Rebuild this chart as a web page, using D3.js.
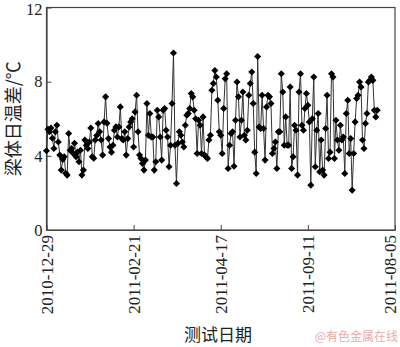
<!DOCTYPE html>
<html>
<head>
<meta charset="utf-8">
<script src="https://cdn.jsdelivr.net/npm/d3@7/dist/d3.min.js"></script>
<style>
  html, body { margin: 0; padding: 0; background: #fff; }
  svg { display: block; }
</style>
</head>
<body>
<svg id="chart" width="400" height="347"></svg>
<script>
// Daily temperature difference of the girder body (°C), one reading per test day
const dailyDiff = [
  4.27,5.43,5.3,5.5,4.95,4.4,5.3,5.65,4.75,4.04,3.23,3.8,3.95,3.06,2.96,5.2,4.3,4.4,4.14,4.68,
  3.95,4.2,3.68,4.3,2.96,3.23,4.85,4.57,4.4,4.75,5.5,3.95,3.87,4.85,5.1,5.74,5.3,4.85,
  4.04,5.83,7.18,5.76,4.93,4.48,4.2,4.57,5.38,5.56,5.02,5.56,6.64,4.93,4.85,5.3,4.04,4.93,5.56,5.83,
  6.0,4.48,6.37,7.27,5.3,4.04,3.86,3.59,3.23,3.77,6.82,5.11,6.28,5.02,5.02,3.23,3.68,6.46,
  6.1,5.02,3.77,6.46,6.55,5.38,5.02,3.41,4.57,6.82,9.55,4.57,2.51,4.67,5.3,5.11,4.75,4.48,5.65,6.19,
  6.28,6.55,7.36,7.18,6.46,6.0,4.13,5.92,5.65,4.13,6.1,4.04,3.95,3.86,4.85,5.11,7.54,7.9,8.6,8.25,
  7.0,5.3,5.11,4.13,6.55,8.16,8.43,3.32,4.57,5.2,5.3,3.44,5.92,7.98,7.18,5.02,5.92,7.44,5.11,4.85,
  5.38,7.27,7.9,8.52,6.82,4.2,3.05,9.36,5.56,5.47,7.27,5.47,3.77,6.64,7.27,
  7.18,6.82,4.13,4.4,4.75,3.32,5.3,5.3,8.43,7.44,4.57,6.1,4.57,4.57,7.71,3.32,3.95,5.65,5.38,2.96,
  7.44,8.43,5.65,5.38,6.55,7.36,6.73,5.83,2.42,6.0,8.25,3.41,5.38,6.28,3.14,4.85,3.23,2.96,5.47,7.27,
  3.86,4.2,8.43,8.25,3.86,5.92,4.85,4.3,5.65,4.85,5.02,3.05,6.28,7.0,4.13,4.93,2.15,4.13,5.83,7.09,
  7.27,7.98,7.71,4.85,4.4,5.74,6.28,7.98,8.07,8.25,8.07,6.46,6.1,6.46
];

// Tick positions along the reading index and their date labels
const dateTickIndex = [0, 59, 118, 177, 236];
const dateTickLabels = ["2010-12-29", "2011-02-21", "2011-04-17", "2011-09-11", "2011-08-05"];
const yTickValues = [0, 4, 8, 12];

const yTitle = "梁体日温差/℃";
const xTitle = "测试日期";
const sourceMark = "@有色金属在线";

const svg = d3.select("#chart");
const plot = { left: 46.5, right: 395, top: 7.5, bottom: 230 };

const x = d3.scaleLinear()
  .domain([dateTickIndex[0], dateTickIndex[dateTickIndex.length - 1]])
  .range([plot.left, plot.right]);
const y = d3.scaleLinear().domain([0, 12]).range([plot.bottom, plot.top]);

const serif = "'Liberation Serif', 'Times New Roman', serif";
const cjk = "'Noto Sans CJK SC', sans-serif";
const frameColor = "#444";

// Plot frame
svg.append("rect")
  .attr("x", plot.left).attr("y", plot.top)
  .attr("width", plot.right - plot.left).attr("height", plot.bottom - plot.top)
  .attr("fill", "none").attr("stroke", frameColor).attr("stroke-width", 1.2);

// Left axis, ticks pointing inward
const yAxis = svg.append("g")
  .attr("transform", `translate(${plot.left},0)`)
  .call(d3.axisLeft(y).tickValues(yTickValues).tickSizeInner(-5).tickSizeOuter(0).tickPadding(4));
yAxis.select(".domain").attr("stroke", frameColor).attr("stroke-width", 1.2);
yAxis.selectAll(".tick line").attr("stroke", frameColor);
yAxis.selectAll(".tick text")
  .attr("font-family", serif).attr("font-size", 16.5).attr("fill", "#222")
  .attr("dy", (d) => d === 12 ? "0.42em" : "0.32em");

// Bottom axis with vertical date labels; the last one is nudged inside the right edge
const xAxis = svg.append("g")
  .attr("transform", `translate(0,${plot.bottom})`)
  .call(d3.axisBottom(x).tickValues(dateTickIndex)
    .tickFormat((d, i) => dateTickLabels[i])
    .tickSizeInner(-5).tickSizeOuter(0));
xAxis.select(".domain").attr("stroke", frameColor).attr("stroke-width", 1.2);
xAxis.selectAll(".tick line").attr("stroke", frameColor);
xAxis.selectAll(".tick text")
  .attr("font-family", serif).attr("font-size", 17).attr("fill", "#222")
  .attr("text-anchor", "end")
  .attr("dy", (d, i) => i === dateTickIndex.length - 1 ? "0.05em" : "0.35em")
  .attr("transform", "translate(0,5) rotate(-90)")
  .attr("x", 0).attr("y", 0);

// Series line
const line = d3.line().x((d, i) => x(i)).y(d => y(d));
svg.append("path")
  .datum(dailyDiff)
  .attr("fill", "none")
  .attr("stroke", "#333")
  .attr("stroke-width", 1)
  .attr("d", line);

// Diamond markers
const diamond = d3.symbol().type(d3.symbolSquare).size(25);
svg.append("g").selectAll("path")
  .data(dailyDiff)
  .join("path")
  .attr("d", diamond)
  .attr("transform", (d, i) => `translate(${x(i)},${y(d)}) rotate(45)`)
  .attr("fill", "#000");

// Axis titles
svg.append("text")
  .attr("transform", `translate(20,${(plot.top + plot.bottom) / 2}) rotate(-90)`)
  .attr("text-anchor", "middle")
  .attr("font-family", cjk).attr("font-size", 18).attr("fill", "#222")
  .text(yTitle);

svg.append("text")
  .attr("x", 218).attr("y", 341)
  .attr("text-anchor", "middle")
  .attr("font-family", cjk).attr("font-size", 17).attr("fill", "#222")
  .text(xTitle);

svg.append("text")
  .attr("x", 398).attr("y", 341)
  .attr("text-anchor", "end")
  .attr("font-family", cjk).attr("font-size", 12).attr("fill", "#eaa9a9")
  .text(sourceMark);
</script>
</body>
</html>
